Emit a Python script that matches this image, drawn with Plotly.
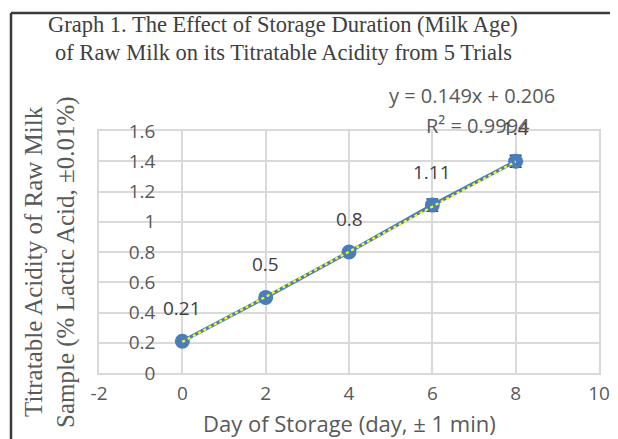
import plotly.graph_objects as go

days = [0, 2, 4, 6, 8]
acidity = [0.21, 0.5, 0.8, 1.11, 1.4]
errors = [0.01, 0.01, 0.02, 0.04, 0.04]
labels = ["0.21", "0.5", "0.8", "1.11", "1.4"]
trend_slope = 0.149
trend_intercept = 0.206
trend_r2 = "0.9994"
x_ticks = [-2, 0, 2, 4, 6, 8, 10]
y_ticks = [0, 0.2, 0.4, 0.6, 0.8, 1, 1.2, 1.4, 1.6]
y_tick_text = ["0", "0.2", "0.4", "0.6", "0.8", "1", "1.2", "1.4", "1.6"]
title_lines = ["Graph 1. The Effect of Storage Duration (Milk Age)",
               "of Raw Milk on its Titratable Acidity from 5 Trials"]
ytitle_lines = ["Titratable Acidity of Raw Milk", "Sample (% Lactic Acid, ±0.01%)"]
xtitle = "Day of Storage (day, ± 1 min)"

trend_x = [min(days), max(days)]
trend_y = [trend_slope * v + trend_intercept for v in trend_x]

SANS = "Open Sans"
SERIF = "Liberation Serif"
TXT = "#595959"

# page is offset by the 8px body margin; lay out in page pixels
OFF = 8
W, H = 618 - OFF, 439 - OFF
L, R, T, B = 99 - OFF, 19, 131 - OFF, 66
PW, PH = W - L - R, H - T - B


def px(xp):
    return (xp - OFF - L) / PW


def py(yp):
    return (H - B - (yp - OFF)) / PH


fig = go.Figure()
fig.add_trace(go.Scatter(
    x=days, y=acidity, mode="lines+markers",
    line=dict(color="#4A7EBB", width=3.5),
    marker=dict(color="#4A7EBB", size=15),
    error_y=dict(type="data", array=errors, visible=True, color="#404040", thickness=1.5, width=6),
    showlegend=False, cliponaxis=False,
))
fig.add_trace(go.Scatter(
    x=trend_x, y=trend_y, mode="lines",
    line=dict(color="#FFFF00", width=2.2, dash="dot"),
    showlegend=False, cliponaxis=False,
))

for xv, yv, t in zip(days, acidity, labels):
    fig.add_annotation(x=xv, y=yv, text=t, showarrow=False, yshift=33,
                       xanchor="center", yanchor="middle",
                       font=dict(family=SANS, size=19, color="#404040"))

fig.add_annotation(x=px(472), y=py(96), xref="paper", yref="paper",
                   text=f"y = {trend_slope:.3f}x + {trend_intercept:.3f}", showarrow=False,
                   xanchor="center", yanchor="middle",
                   font=dict(family=SANS, size=20, color=TXT))
fig.add_annotation(x=px(478), y=py(126), xref="paper", yref="paper",
                   text=f"R² = {trend_r2}", showarrow=False,
                   xanchor="center", yanchor="middle",
                   font=dict(family=SANS, size=20, color=TXT))

# Title
for line, yc in zip(title_lines, [25, 53]):
    fig.add_annotation(x=px(283), y=py(yc), xref="paper", yref="paper",
                       text=line, showarrow=False, xanchor="center", yanchor="middle",
                       font=dict(family=SERIF, size=22.5, color="#404040"))
# Y title
for line, xc in zip(ytitle_lines, [33, 66]):
    fig.add_annotation(x=px(xc), y=py(262), xref="paper", yref="paper",
                       text=line, showarrow=False, textangle=-90,
                       xanchor="center", yanchor="middle",
                       font=dict(family=SERIF, size=25, color=TXT))
# X title
fig.add_annotation(x=0.5, y=py(423), xref="paper", yref="paper",
                   text=xtitle, showarrow=False, xanchor="center", yanchor="middle",
                   font=dict(family=SANS, size=22, color=TXT))

# Frame (only its top and left sides fall inside the picture)
fig.add_shape(type="line", xref="paper", yref="paper",
              x0=px(11), x1=px(640), y0=py(13), y1=py(13),
              line=dict(color="#3A3A3A", width=2.5), layer="above")
fig.add_shape(type="line", xref="paper", yref="paper",
              x0=px(11), x1=px(11), y0=py(13), y1=py(460),
              line=dict(color="#3A3A3A", width=2.5), layer="above")

fig.update_layout(
    width=W, height=H,
    margin=dict(l=L, r=R, t=T, b=B, autoexpand=False),
    paper_bgcolor="white", plot_bgcolor="white",
)
fig.update_xaxes(range=[-2, 10], tickvals=x_ticks, ticktext=[str(v) for v in x_ticks],
                 showgrid=True, gridcolor="#D9D9D9", gridwidth=1.5, zeroline=False,
                 showline=True, linecolor="#D9D9D9", linewidth=1.5, mirror=True, automargin=False,
                 ticks="", tickfont=dict(family=SANS, size=19, color=TXT), ticklabelstandoff=2)
fig.update_yaxes(range=[0, 1.6], tickvals=y_ticks, ticktext=y_tick_text,
                 showgrid=True, gridcolor="#D9D9D9", gridwidth=1.5, zeroline=False,
                 showline=True, linecolor="#D9D9D9", linewidth=1.5, mirror=True, automargin=False,
                 ticks="", tickfont=dict(family=SANS, size=19, color=TXT), ticklabelstandoff=-62)

fig.write_html("out.html", config={"displayModeBar": False},
               post_script="document.body.style.overflow='hidden';")
